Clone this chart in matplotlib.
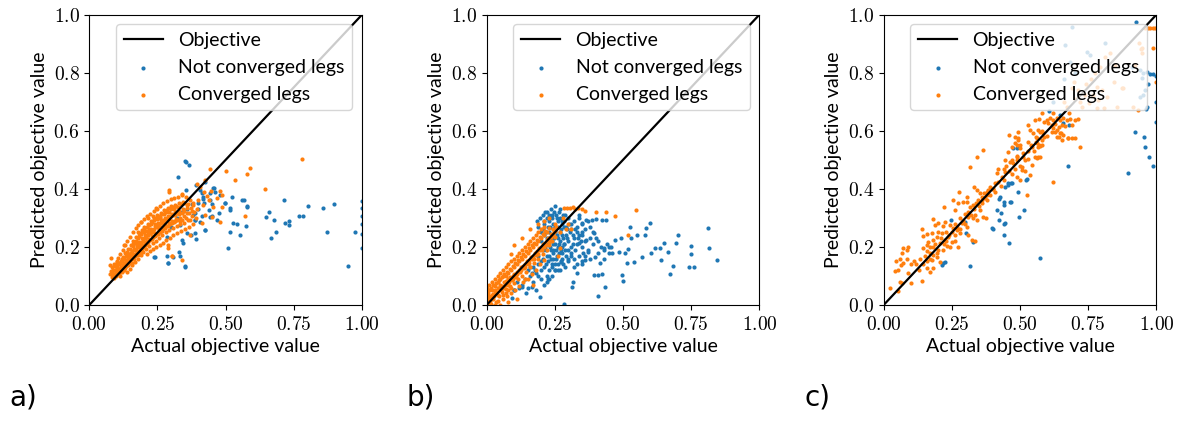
"""
Predicted vs actual objective value for three cases (a, b, c).
Output: out.png
"""
import numpy as np
import matplotlib.pyplot as plt

plt.rcParams["mathtext.fontset"] = "cm"
plt.rcParams["font.family"] = ["Lato", "DejaVu Sans"]

OUT_PATH = "out.png"

X_TICKS = [0.0, 0.25, 0.5, 0.75, 1.0]
Y_TICKS = [0.0, 0.2, 0.4, 0.6, 0.8, 1.0]
OBJ_LINE = [0.0, 1.0]
PANEL_LABELS = ["a)", "b)", "c)"]

# panel a
A_NOT = [
    (0.352, 0.497), (0.356, 0.493), (0.364, 0.481), (0.324, 0.440), (0.353, 0.395),
    (0.406, 0.397), (0.455, 0.404), (0.460, 0.388), (0.479, 0.380), (0.525, 0.373),
    (0.499, 0.352), (0.566, 0.360), (0.577, 0.342), (0.580, 0.338), (0.416, 0.364),
    (0.421, 0.352), (0.443, 0.362), (0.399, 0.350), (0.377, 0.348), (0.438, 0.327),
    (0.450, 0.307), (0.477, 0.316), (0.516, 0.327), (0.412, 0.307), (0.389, 0.293),
    (0.423, 0.258), (0.391, 0.226), (0.372, 0.241), (0.345, 0.212), (0.328, 0.181),
    (0.306, 0.166), (0.290, 0.143), (0.333, 0.170), (0.352, 0.135), (0.516, 0.253),
    (0.528, 0.281), (0.540, 0.278), (0.553, 0.241), (0.575, 0.273), (0.509, 0.197),
    (0.467, 0.293), (0.649, 0.303), (0.658, 0.321), (0.676, 0.293), (0.667, 0.231),
    (0.685, 0.250), (0.714, 0.362), (0.719, 0.284), (0.731, 0.290), (0.733, 0.277),
    (0.770, 0.307), (0.785, 0.307), (0.802, 0.342), (0.857, 0.333), (0.873, 0.250),
    (0.896, 0.349), (0.950, 0.135), (0.973, 0.251), (1.000, 0.358), (1.000, 0.334),
    (1.000, 0.305), (1.000, 0.278), (1.000, 0.245), (1.000, 0.195), (0.237, 0.166),
    (0.393, 0.413), (0.424, 0.425), (0.443, 0.387), (0.458, 0.402), (0.412, 0.385),
    (0.418, 0.373), (0.449, 0.348), (0.498, 0.350), (0.516, 0.333), (0.559, 0.360),
    (0.388, 0.293), (0.406, 0.287), (0.424, 0.258), (0.443, 0.304), (0.388, 0.249),
    (0.357, 0.247), (0.339, 0.224), (0.284, 0.167), (0.290, 0.144), (0.351, 0.132),
    (0.241, 0.164), (0.284, 0.233), (0.333, 0.276), (0.388, 0.316), (0.30, 0.27),
    (0.32, 0.30), (0.34, 0.32), (0.36, 0.33), (0.38, 0.31), (0.40, 0.33),
]
A_CONV = [
    (0.075, 0.105), (0.078, 0.118), (0.082, 0.096), (0.085, 0.130), (0.088, 0.108),
    (0.090, 0.092), (0.092, 0.140), (0.095, 0.120), (0.097, 0.101), (0.100, 0.150),
    (0.102, 0.128), (0.104, 0.110), (0.106, 0.162), (0.108, 0.140), (0.110, 0.118),
    (0.112, 0.100), (0.114, 0.175), (0.116, 0.150), (0.118, 0.130), (0.120, 0.112),
    (0.122, 0.190), (0.124, 0.165), (0.126, 0.142), (0.128, 0.122), (0.130, 0.205),
    (0.132, 0.178), (0.134, 0.155), (0.136, 0.133), (0.138, 0.115), (0.140, 0.220),
    (0.142, 0.192), (0.144, 0.168), (0.146, 0.146), (0.148, 0.125), (0.150, 0.235),
    (0.152, 0.205), (0.154, 0.180), (0.156, 0.158), (0.158, 0.138), (0.160, 0.250),
    (0.162, 0.220), (0.164, 0.192), (0.166, 0.170), (0.168, 0.148), (0.170, 0.265),
    (0.172, 0.235), (0.174, 0.205), (0.176, 0.182), (0.178, 0.160), (0.180, 0.275),
    (0.182, 0.248), (0.184, 0.218), (0.186, 0.195), (0.188, 0.172), (0.190, 0.285),
    (0.192, 0.258), (0.194, 0.230), (0.196, 0.207), (0.198, 0.182), (0.200, 0.296),
    (0.202, 0.270), (0.204, 0.242), (0.206, 0.218), (0.208, 0.192), (0.210, 0.175),
    (0.212, 0.305), (0.214, 0.280), (0.216, 0.252), (0.218, 0.228), (0.220, 0.203),
    (0.222, 0.185), (0.224, 0.315), (0.226, 0.290), (0.228, 0.262), (0.230, 0.238),
    (0.232, 0.212), (0.234, 0.192), (0.236, 0.322), (0.238, 0.300), (0.240, 0.272),
    (0.242, 0.248), (0.244, 0.222), (0.246, 0.200), (0.248, 0.332), (0.250, 0.310),
    (0.252, 0.282), (0.254, 0.258), (0.256, 0.232), (0.258, 0.208), (0.260, 0.340),
    (0.262, 0.318), (0.264, 0.292), (0.266, 0.268), (0.268, 0.242), (0.270, 0.215),
    (0.272, 0.350), (0.274, 0.326), (0.276, 0.300), (0.278, 0.276), (0.280, 0.250),
    (0.282, 0.224), (0.285, 0.358), (0.287, 0.334), (0.289, 0.308), (0.291, 0.284),
    (0.293, 0.258), (0.295, 0.232), (0.298, 0.365), (0.300, 0.340), (0.302, 0.315),
    (0.304, 0.290), (0.306, 0.265), (0.308, 0.240), (0.312, 0.368), (0.314, 0.345),
    (0.316, 0.320), (0.318, 0.296), (0.320, 0.272), (0.322, 0.248), (0.326, 0.372),
    (0.328, 0.350), (0.330, 0.325), (0.332, 0.300), (0.334, 0.278), (0.336, 0.255),
    (0.340, 0.380), (0.342, 0.355), (0.344, 0.330), (0.346, 0.305), (0.348, 0.282),
    (0.350, 0.262), (0.355, 0.372), (0.358, 0.345), (0.360, 0.318), (0.362, 0.292),
    (0.365, 0.270), (0.370, 0.360), (0.373, 0.335), (0.376, 0.305), (0.380, 0.280),
    (0.385, 0.320), (0.390, 0.300),
    (0.083, 0.112), (0.087, 0.121), (0.093, 0.106), (0.096, 0.133), (0.099, 0.115),
    (0.103, 0.139), (0.107, 0.124), (0.109, 0.108), (0.113, 0.143), (0.115, 0.131),
    (0.117, 0.117), (0.121, 0.151), (0.123, 0.136), (0.125, 0.119), (0.127, 0.158),
    (0.129, 0.146), (0.131, 0.128), (0.133, 0.168), (0.135, 0.149), (0.137, 0.139),
    (0.139, 0.182), (0.141, 0.157), (0.143, 0.137), (0.145, 0.176), (0.147, 0.163),
    (0.149, 0.149), (0.151, 0.193), (0.153, 0.171), (0.155, 0.146), (0.157, 0.186),
    (0.159, 0.164), (0.161, 0.203), (0.163, 0.177), (0.165, 0.158), (0.167, 0.212),
    (0.169, 0.189), (0.171, 0.172), (0.173, 0.222), (0.175, 0.198), (0.177, 0.171),
    (0.179, 0.209), (0.181, 0.187), (0.183, 0.236), (0.185, 0.208), (0.187, 0.183),
    (0.189, 0.244), (0.191, 0.218), (0.193, 0.193), (0.195, 0.253), (0.197, 0.221),
    (0.199, 0.199), (0.201, 0.262), (0.203, 0.231), (0.205, 0.206), (0.207, 0.255),
    (0.209, 0.233), (0.211, 0.211), (0.213, 0.268), (0.215, 0.241), (0.217, 0.217),
    (0.219, 0.276), (0.221, 0.249), (0.223, 0.224), (0.225, 0.279), (0.227, 0.251),
    (0.229, 0.226), (0.231, 0.287), (0.233, 0.259), (0.235, 0.233), (0.237, 0.293),
    (0.239, 0.262), (0.241, 0.237), (0.243, 0.301), (0.245, 0.271), (0.247, 0.243),
    (0.249, 0.296), (0.251, 0.269), (0.253, 0.245), (0.255, 0.306), (0.257, 0.276),
    (0.259, 0.251), (0.261, 0.304), (0.263, 0.281), (0.265, 0.256), (0.267, 0.312),
    (0.269, 0.285), (0.271, 0.262), (0.273, 0.315), (0.275, 0.291), (0.277, 0.265),
    (0.279, 0.323), (0.281, 0.297), (0.283, 0.271), (0.286, 0.327), (0.288, 0.296),
    (0.290, 0.271), (0.292, 0.319), (0.294, 0.297), (0.296, 0.279), (0.299, 0.329),
    (0.301, 0.306), (0.303, 0.281), (0.305, 0.336), (0.307, 0.309), (0.309, 0.286),
    (0.311, 0.336), (0.313, 0.311), (0.315, 0.288), (0.319, 0.341), (0.321, 0.317),
    (0.323, 0.292), (0.327, 0.339), (0.329, 0.313), (0.331, 0.289), (0.337, 0.347),
    (0.339, 0.318), (0.341, 0.293), (0.347, 0.351), (0.349, 0.322), (0.353, 0.298),
    (0.357, 0.333), (0.363, 0.349), (0.367, 0.317), (0.371, 0.292), (0.378, 0.324),
    (0.382, 0.345),
    (0.11, 0.125), (0.13, 0.14), (0.15, 0.16), (0.17, 0.19), (0.19, 0.20),
    (0.21, 0.22), (0.23, 0.25), (0.25, 0.27), (0.27, 0.29), (0.29, 0.30),
    (0.31, 0.33), (0.20, 0.25), (0.22, 0.26), (0.18, 0.23), (0.16, 0.21),
    (0.24, 0.28), (0.26, 0.30), (0.28, 0.32), (0.14, 0.18), (0.12, 0.16),
    (0.076, 0.138), (0.080, 0.161), (0.100, 0.147), (0.128, 0.207), (0.180, 0.250),
    (0.190, 0.285), (0.216, 0.299), (0.235, 0.308), (0.244, 0.333), (0.293, 0.395),
    (0.302, 0.169), (0.339, 0.155), (0.287, 0.195), (0.304, 0.170), (0.287, 0.207),
    (0.370, 0.241), (0.779, 0.503), (0.589, 0.471), (0.577, 0.450), (0.500, 0.462),
    (0.443, 0.468), (0.533, 0.429), (0.644, 0.401), (0.571, 0.308), (0.487, 0.380),
    (0.425, 0.431), (0.394, 0.416), (0.406, 0.408), (0.341, 0.381), (0.293, 0.390),
    (0.445, 0.392), (0.479, 0.394), (0.467, 0.367), (0.430, 0.375), (0.418, 0.344),
    (0.455, 0.339), (0.485, 0.339), (0.449, 0.304), (0.479, 0.287), (0.424, 0.310),
    (0.412, 0.281), (0.40, 0.36), (0.42, 0.39), (0.38, 0.35), (0.395, 0.33),
    (0.44, 0.36),
]

# panel b
B_NOT = [
    (0.845, 0.155), (0.814, 0.195), (0.811, 0.264), (0.759, 0.132), (0.750, 0.204),
    (0.750, 0.176), (0.743, 0.132), (0.701, 0.241), (0.694, 0.215), (0.683, 0.135),
    (0.671, 0.107), (0.665, 0.181), (0.652, 0.212), (0.635, 0.195), (0.618, 0.195),
    (0.639, 0.155), (0.603, 0.178), (0.598, 0.281), (0.584, 0.266), (0.581, 0.241),
    (0.571, 0.166), (0.552, 0.241), (0.542, 0.149), (0.526, 0.270), (0.528, 0.230),
    (0.520, 0.192), (0.514, 0.143), (0.506, 0.178), (0.493, 0.230), (0.496, 0.103),
    (0.501, 0.084), (0.486, 0.184), (0.469, 0.224), (0.457, 0.201), (0.447, 0.178),
    (0.432, 0.195), (0.435, 0.061), (0.423, 0.107), (0.410, 0.103), (0.393, 0.102),
    (0.408, 0.031), (0.416, 0.143), (0.398, 0.166), (0.393, 0.247), (0.386, 0.293),
    (0.402, 0.295), (0.422, 0.293), (0.437, 0.293), (0.364, 0.293), (0.349, 0.281),
    (0.340, 0.310), (0.349, 0.241), (0.337, 0.212), (0.364, 0.224), (0.373, 0.184),
    (0.361, 0.155), (0.349, 0.141), (0.330, 0.109), (0.312, 0.061), (0.318, 0.080),
    (0.285, 0.003), (0.273, 0.149), (0.251, 0.121), (0.226, 0.091), (0.220, 0.080),
    (0.197, 0.029), (0.165, 0.063), (0.146, 0.040), (0.128, 0.063), (0.092, 0.023),
    (0.099, 0.052),
    (0.185, 0.29), (0.19, 0.27), (0.195, 0.30), (0.20, 0.25), (0.205, 0.31),
    (0.21, 0.28), (0.215, 0.32), (0.22, 0.30), (0.225, 0.27), (0.23, 0.31),
    (0.235, 0.33), (0.24, 0.30), (0.245, 0.28), (0.25, 0.34), (0.255, 0.31),
    (0.26, 0.29), (0.265, 0.32), (0.27, 0.30), (0.275, 0.28), (0.28, 0.31),
    (0.285, 0.29), (0.29, 0.27), (0.30, 0.30), (0.31, 0.28),
    (0.20, 0.22), (0.21, 0.24), (0.215, 0.20), (0.22, 0.23), (0.225, 0.21),
    (0.23, 0.25), (0.235, 0.19), (0.24, 0.23), (0.245, 0.21), (0.25, 0.25),
    (0.255, 0.19), (0.26, 0.23), (0.265, 0.21), (0.27, 0.25), (0.275, 0.20),
    (0.28, 0.23), (0.285, 0.21), (0.29, 0.24), (0.30, 0.22), (0.305, 0.25),
    (0.31, 0.20), (0.32, 0.23), (0.33, 0.21), (0.34, 0.24), (0.35, 0.20),
    (0.36, 0.22), (0.37, 0.19),
    (0.19, 0.17), (0.20, 0.15), (0.205, 0.19), (0.21, 0.13), (0.22, 0.17),
    (0.225, 0.15), (0.23, 0.12), (0.235, 0.16), (0.24, 0.14), (0.245, 0.18),
    (0.25, 0.12), (0.255, 0.16), (0.26, 0.14), (0.265, 0.18), (0.27, 0.12),
    (0.275, 0.16), (0.28, 0.14), (0.29, 0.17), (0.30, 0.15), (0.31, 0.18),
    (0.32, 0.16), (0.33, 0.14), (0.34, 0.17), (0.35, 0.15), (0.36, 0.17),
    (0.38, 0.16), (0.17, 0.13), (0.18, 0.11), (0.16, 0.10), (0.15, 0.12),
    (0.14, 0.09), (0.17, 0.08), (0.19, 0.10), (0.20, 0.09), (0.21, 0.07),
    (0.22, 0.10), (0.23, 0.09), (0.24, 0.10), (0.13, 0.07), (0.12, 0.06),
    (0.11, 0.08), (0.10, 0.05), (0.15, 0.06), (0.18, 0.05),
    (0.32, 0.29), (0.33, 0.27), (0.34, 0.30), (0.35, 0.28), (0.36, 0.26),
    (0.37, 0.29), (0.38, 0.27), (0.39, 0.25), (0.40, 0.23), (0.41, 0.22),
    (0.42, 0.20), (0.43, 0.19), (0.44, 0.21), (0.45, 0.20), (0.46, 0.18),
    (0.39, 0.21), (0.38, 0.23), (0.41, 0.18), (0.43, 0.16), (0.35, 0.25),
    (0.33, 0.25), (0.31, 0.26),
    (0.208, 0.26), (0.212, 0.29), (0.218, 0.25), (0.222, 0.32), (0.228, 0.29),
    (0.232, 0.27), (0.238, 0.31), (0.242, 0.26), (0.248, 0.32), (0.252, 0.27),
    (0.258, 0.30), (0.262, 0.27), (0.268, 0.33), (0.272, 0.26), (0.278, 0.29),
    (0.282, 0.27), (0.288, 0.31), (0.295, 0.26), (0.302, 0.28), (0.212, 0.21),
    (0.218, 0.19), (0.228, 0.23), (0.232, 0.20), (0.238, 0.22), (0.242, 0.19),
    (0.248, 0.23), (0.252, 0.21), (0.258, 0.24), (0.262, 0.20), (0.268, 0.22),
    (0.272, 0.19), (0.278, 0.24), (0.282, 0.21), (0.288, 0.19), (0.295, 0.23),
    (0.208, 0.16), (0.218, 0.14), (0.228, 0.17), (0.238, 0.13), (0.242, 0.16),
    (0.252, 0.14), (0.258, 0.17), (0.262, 0.12), (0.272, 0.15), (0.278, 0.18),
    (0.288, 0.13), (0.298, 0.16), (0.198, 0.12), (0.188, 0.14), (0.178, 0.12),
    (0.168, 0.11), (0.158, 0.13), (0.315, 0.21), (0.325, 0.19), (0.335, 0.23),
    (0.345, 0.22), (0.355, 0.18), (0.315, 0.24), (0.325, 0.26), (0.30, 0.19),
    (0.31, 0.17), (0.32, 0.13),
]
B_CONV = [
    (0.005, 0.01), (0.01, 0.03), (0.015, 0.005), (0.02, 0.05), (0.025, 0.02),
    (0.03, 0.04), (0.035, 0.01), (0.04, 0.06), (0.045, 0.03), (0.05, 0.07),
    (0.055, 0.045), (0.06, 0.02), (0.065, 0.08), (0.07, 0.055), (0.075, 0.03),
    (0.08, 0.09), (0.085, 0.065), (0.09, 0.04), (0.095, 0.10), (0.10, 0.075),
    (0.105, 0.05), (0.11, 0.115), (0.115, 0.09), (0.12, 0.065), (0.125, 0.13),
    (0.13, 0.10), (0.135, 0.08), (0.14, 0.14), (0.145, 0.115), (0.15, 0.09),
    (0.155, 0.155), (0.16, 0.13), (0.165, 0.105), (0.17, 0.17), (0.175, 0.145),
    (0.18, 0.12), (0.185, 0.185), (0.19, 0.16), (0.195, 0.14), (0.20, 0.20),
    (0.205, 0.175), (0.21, 0.155), (0.215, 0.215), (0.22, 0.19), (0.225, 0.23),
    (0.23, 0.205), (0.235, 0.245), (0.24, 0.22), (0.245, 0.26), (0.25, 0.235),
    (0.255, 0.27),
    (0.0, 0.06), (0.005, 0.04), (0.01, 0.07), (0.02, 0.08), (0.03, 0.09),
    (0.04, 0.10), (0.05, 0.11), (0.06, 0.12), (0.07, 0.13), (0.08, 0.14),
    (0.09, 0.15), (0.10, 0.16), (0.11, 0.17), (0.12, 0.18), (0.13, 0.19),
    (0.14, 0.20), (0.15, 0.21), (0.16, 0.22), (0.17, 0.23), (0.18, 0.24),
    (0.19, 0.25), (0.20, 0.26), (0.21, 0.27),
    (0.03, 0.065), (0.05, 0.09), (0.07, 0.10), (0.09, 0.12), (0.11, 0.14),
    (0.13, 0.16), (0.15, 0.18), (0.17, 0.20), (0.19, 0.22), (0.21, 0.24),
    (0.23, 0.265), (0.06, 0.10), (0.08, 0.11), (0.10, 0.13), (0.12, 0.15),
    (0.14, 0.17), (0.16, 0.19), (0.18, 0.21), (0.20, 0.23), (0.22, 0.25),
    (0.04, 0.08), (0.02, 0.035), (0.01, 0.05), (0.0, 0.02), (0.0, 0.04),
    (0.10, 0.205), (0.09, 0.175), (0.13, 0.23), (0.16, 0.26), (0.19, 0.28),
    (0.21, 0.29), (0.23, 0.30), (0.25, 0.28), (0.27, 0.25), (0.27, 0.195),
    (0.26, 0.17), (0.17, 0.07), (0.14, 0.09), (0.11, 0.02), (0.08, 0.01),
    (0.05, 0.0), (0.28, 0.30), (0.29, 0.26),
    (0.003, 0.015), (0.008, 0.022), (0.012, 0.012), (0.018, 0.028), (0.022, 0.038),
    (0.027, 0.030), (0.032, 0.052), (0.037, 0.045), (0.042, 0.035), (0.047, 0.058),
    (0.052, 0.052), (0.057, 0.066), (0.062, 0.058), (0.067, 0.070), (0.072, 0.082),
    (0.077, 0.068), (0.082, 0.078), (0.087, 0.095), (0.092, 0.085), (0.097, 0.090),
    (0.102, 0.108), (0.107, 0.098), (0.112, 0.105), (0.117, 0.122), (0.122, 0.112),
    (0.127, 0.120), (0.132, 0.135), (0.137, 0.128), (0.142, 0.130), (0.147, 0.150),
    (0.152, 0.142), (0.157, 0.145), (0.162, 0.165), (0.167, 0.158), (0.172, 0.160),
    (0.177, 0.180), (0.182, 0.172), (0.187, 0.175), (0.192, 0.195), (0.197, 0.188),
    (0.202, 0.190), (0.207, 0.210), (0.212, 0.200), (0.217, 0.205), (0.222, 0.225),
    (0.227, 0.218), (0.232, 0.222), (0.237, 0.235), (0.242, 0.240), (0.247, 0.250),
    (0.252, 0.255), (0.015, 0.060), (0.025, 0.070), (0.035, 0.075), (0.045, 0.085),
    (0.055, 0.095), (0.065, 0.105), (0.075, 0.115), (0.085, 0.125), (0.095, 0.135),
    (0.105, 0.145), (0.115, 0.155), (0.125, 0.165), (0.135, 0.175), (0.145, 0.185),
    (0.155, 0.195), (0.165, 0.205), (0.175, 0.215), (0.185, 0.225), (0.195, 0.235),
    (0.205, 0.245), (0.215, 0.255), (0.0, 0.0), (0.0, 0.03), (0.0, 0.05),
    (0.01, 0.0), (0.03, 0.0), (0.04, 0.015), (0.06, 0.035), (0.07, 0.04),
    (0.08, 0.05), (0.09, 0.06),
    (0.285, 0.333), (0.295, 0.335), (0.305, 0.333), (0.315, 0.336), (0.325, 0.332),
    (0.335, 0.334), (0.35, 0.33), (0.36, 0.325), (0.40, 0.32), (0.437, 0.321),
    (0.469, 0.307), (0.548, 0.327), (0.52, 0.241), (0.30, 0.28), (0.31, 0.26),
]

# panel c
C_NOT = [
    (0.924, 0.975), (0.910, 0.819), (0.938, 0.809), (0.952, 0.800), (0.967, 0.801),
    (0.977, 0.796), (0.989, 0.796), (0.998, 0.789), (0.946, 0.781), (0.970, 0.762),
    (0.958, 0.741), (0.949, 0.723), (0.941, 0.715), (0.998, 0.699), (0.967, 0.683),
    (0.962, 0.674), (0.998, 0.631), (0.922, 0.597), (0.955, 0.578), (0.958, 0.545),
    (0.973, 0.509), (0.987, 0.480), (0.896, 0.453), (0.677, 0.480), (0.679, 0.620),
    (0.659, 0.626), (0.476, 0.540), (0.488, 0.539), (0.455, 0.419), (0.467, 0.421),
    (0.424, 0.364), (0.463, 0.356), (0.443, 0.344), (0.415, 0.327), (0.429, 0.318),
    (0.443, 0.279), (0.396, 0.264), (0.402, 0.261), (0.460, 0.212), (0.496, 0.302),
    (0.516, 0.327), (0.521, 0.431), (0.527, 0.433), (0.573, 0.161), (0.317, 0.135),
    (0.329, 0.216), (0.303, 0.247), (0.298, 0.287), (0.247, 0.292), (0.219, 0.143),
    (0.213, 0.138), (0.225, 0.149), (0.427, 0.373), (0.445, 0.407), (0.457, 0.413),
    (0.470, 0.419), (0.441, 0.241), (0.424, 0.292), (0.445, 0.281), (0.443, 0.356),
    (0.467, 0.356), (0.494, 0.390),
    (0.69, 0.959), (0.665, 0.895), (0.745, 0.872), (0.757, 0.861), (0.812, 0.901),
    (0.683, 0.838), (0.606, 0.669), (0.647, 0.654), (0.70, 0.80), (0.66, 0.78),
    (0.62, 0.70),
]
C_CONV = [
    (0.023, 0.057), (0.054, 0.049), (0.068, 0.077), (0.099, 0.077), (0.139, 0.084),
    (0.170, 0.113), (0.042, 0.118), (0.054, 0.120), (0.062, 0.137), (0.072, 0.146),
    (0.045, 0.152), (0.060, 0.160), (0.084, 0.160), (0.102, 0.141), (0.069, 0.178),
    (0.087, 0.189), (0.072, 0.195), (0.090, 0.198), (0.133, 0.160), (0.145, 0.141),
    (0.158, 0.126), (0.182, 0.129), (0.176, 0.155), (0.194, 0.164), (0.207, 0.149),
    (0.145, 0.195), (0.158, 0.206), (0.170, 0.201), (0.164, 0.218), (0.182, 0.224),
    (0.145, 0.237), (0.158, 0.244), (0.139, 0.263), (0.176, 0.247), (0.194, 0.233),
    (0.200, 0.252), (0.213, 0.247), (0.207, 0.212), (0.225, 0.224), (0.237, 0.235),
    (0.231, 0.203), (0.243, 0.201), (0.249, 0.218), (0.219, 0.189), (0.194, 0.178),
    (0.182, 0.172), (0.170, 0.178), (0.188, 0.275), (0.200, 0.283), (0.219, 0.272),
    (0.225, 0.287), (0.243, 0.275), (0.255, 0.264), (0.268, 0.258), (0.262, 0.241),
    (0.280, 0.249), (0.274, 0.201), (0.310, 0.241), (0.307, 0.267), (0.323, 0.224),
    (0.335, 0.221), (0.280, 0.298), (0.286, 0.281), (0.298, 0.315), (0.310, 0.304),
    (0.329, 0.298), (0.341, 0.292), (0.335, 0.310), (0.366, 0.304), (0.375, 0.298),
    (0.353, 0.327), (0.222, 0.336), (0.262, 0.327), (0.274, 0.350), (0.292, 0.356),
    (0.253, 0.361), (0.278, 0.390), (0.304, 0.373), (0.307, 0.356), (0.317, 0.338),
    (0.329, 0.344), (0.347, 0.361), (0.359, 0.373), (0.368, 0.384), (0.378, 0.379),
    (0.384, 0.396), (0.390, 0.407), (0.402, 0.401), (0.331, 0.407), (0.341, 0.396),
    (0.353, 0.384), (0.182, 0.295), (0.415, 0.453), (0.420, 0.424), (0.433, 0.442),
    (0.445, 0.459), (0.445, 0.499), (0.463, 0.493), (0.476, 0.488), (0.457, 0.528),
    (0.470, 0.543), (0.482, 0.557), (0.488, 0.513), (0.506, 0.465), (0.317, 0.476),
    (0.344, 0.508), (0.366, 0.534),
    (0.15, 0.17), (0.16, 0.185), (0.17, 0.16), (0.18, 0.20), (0.19, 0.21),
    (0.20, 0.19), (0.21, 0.23), (0.22, 0.21), (0.23, 0.25), (0.24, 0.24),
    (0.25, 0.25), (0.26, 0.28), (0.27, 0.27), (0.28, 0.26), (0.29, 0.29),
    (0.30, 0.28), (0.31, 0.32), (0.32, 0.31), (0.33, 0.33), (0.34, 0.35),
    (0.35, 0.34), (0.36, 0.36), (0.37, 0.37), (0.38, 0.39), (0.39, 0.38),
    (0.40, 0.40), (0.41, 0.42), (0.38, 0.36), (0.36, 0.35), (0.26, 0.22),
    (0.23, 0.22), (0.13, 0.12), (0.12, 0.14), (0.11, 0.15), (0.16, 0.15),
    (0.09, 0.11), (0.06, 0.08),
    (0.460, 0.586), (0.493, 0.597), (0.494, 0.568), (0.500, 0.551), (0.510, 0.525),
    (0.528, 0.502), (0.543, 0.482), (0.537, 0.448), (0.555, 0.511), (0.567, 0.509),
    (0.524, 0.379), (0.622, 0.425), (0.561, 0.557), (0.575, 0.548), (0.582, 0.568),
    (0.584, 0.591), (0.567, 0.603), (0.559, 0.580), (0.543, 0.545), (0.598, 0.582),
    (0.628, 0.597), (0.634, 0.580), (0.649, 0.591), (0.677, 0.574), (0.702, 0.574),
    (0.718, 0.545),
    (0.42, 0.47), (0.44, 0.43), (0.46, 0.46), (0.47, 0.45), (0.48, 0.47),
    (0.49, 0.50), (0.50, 0.48), (0.51, 0.51), (0.52, 0.50), (0.53, 0.53),
    (0.54, 0.55), (0.55, 0.53), (0.56, 0.56), (0.57, 0.55), (0.58, 0.60),
    (0.45, 0.48), (0.43, 0.41), (0.41, 0.39), (0.44, 0.47), (0.47, 0.50),
    (0.50, 0.43), (0.52, 0.46), (0.49, 0.44),
    (0.555, 0.637), (0.571, 0.640), (0.586, 0.631), (0.598, 0.637), (0.610, 0.643),
    (0.622, 0.637), (0.635, 0.643), (0.647, 0.637), (0.659, 0.643), (0.671, 0.637),
    (0.684, 0.640), (0.702, 0.637), (0.714, 0.640), (0.604, 0.626), (0.616, 0.620),
    (0.628, 0.623), (0.641, 0.614), (0.653, 0.620), (0.665, 0.616), (0.690, 0.620),
    (0.635, 0.603), (0.647, 0.591), (0.641, 0.580), (0.653, 0.568), (0.659, 0.586),
    (0.674, 0.574), (0.690, 0.574), (0.616, 0.597), (0.622, 0.609), (0.531, 0.620),
    (0.537, 0.603), (0.549, 0.591), (0.573, 0.597), (0.586, 0.580), (0.561, 0.574),
    (0.580, 0.551), (0.567, 0.545), (0.531, 0.563), (0.488, 0.551), (0.482, 0.580),
    (0.494, 0.574), (0.500, 0.540), (0.573, 0.511), (0.561, 0.505), (0.488, 0.511),
    (0.506, 0.476),
    (0.830, 0.867), (0.812, 0.855), (0.849, 0.827), (0.794, 0.821), (0.775, 0.798),
    (0.781, 0.752), (0.800, 0.741), (0.818, 0.718), (0.787, 0.706), (0.769, 0.723),
    (0.739, 0.723), (0.751, 0.695), (0.726, 0.683), (0.714, 0.741), (0.690, 0.746),
    (0.696, 0.769), (0.843, 0.769), (0.873, 0.746), (0.855, 0.683), (0.806, 0.677),
    (0.781, 0.677), (0.671, 0.683), (0.879, 0.746), (0.760, 0.780), (0.740, 0.760),
    (0.720, 0.700), (0.700, 0.710), (0.660, 0.700), (0.680, 0.660), (0.620, 0.660),
    (0.580, 0.660),
    (0.959, 0.953), (0.968, 0.953), (0.977, 0.953), (0.986, 0.953), (0.995, 0.953),
    (0.946, 0.884), (0.946, 0.869), (0.989, 0.884), (0.922, 0.827), (0.998, 0.769),
    (0.934, 0.672), (0.935, 0.904), (0.943, 0.881), (0.913, 0.683),
]

PANELS = [(A_NOT, A_CONV), (B_NOT, B_CONV), (C_NOT, C_CONV)]
AX_LEFTS = [0.0751, 0.4093, 0.7432]


def draw(ax, not_conv, conv):
    nc = np.array(not_conv)
    cv = np.array(conv)
    ax.plot(OBJ_LINE, OBJ_LINE, color="black", lw=1.6, label="Objective", zorder=3)
    ax.scatter(nc[:, 0], nc[:, 1], s=9, color="#1f77b4", lw=0, label="Not converged legs")
    ax.scatter(cv[:, 0], cv[:, 1], s=9, color="#ff7f0e", lw=0, label="Converged legs")
    ax.set_xlim(0, 1)
    ax.set_ylim(0, 1)
    ax.set_xticks(X_TICKS)
    ax.set_xticklabels([f"${t:.2f}$" for t in X_TICKS], fontsize=14)
    ax.set_yticks(Y_TICKS)
    ax.set_yticklabels([f"${t:.1f}$" for t in Y_TICKS], fontsize=14)
    ax.set_xlabel("Actual objective value", fontsize=14)
    ax.set_ylabel("Predicted objective value", fontsize=14)
    ax.legend(loc="upper right", fontsize=14)


def main():
    fig = plt.figure(figsize=(11.89, 4.25), dpi=100)
    for i, (nc, cv) in enumerate(PANELS):
        ax = fig.add_axes([AX_LEFTS[i], 0.2824, 0.2294, 0.6831])
        draw(ax, nc, cv)
        fig.text(AX_LEFTS[i] - 0.067, 0.045, PANEL_LABELS[i], fontsize=20,
                 family="DejaVu Sans")
    fig.savefig(OUT_PATH, dpi=100)
    plt.close()


if __name__ == "__main__":
    main()
